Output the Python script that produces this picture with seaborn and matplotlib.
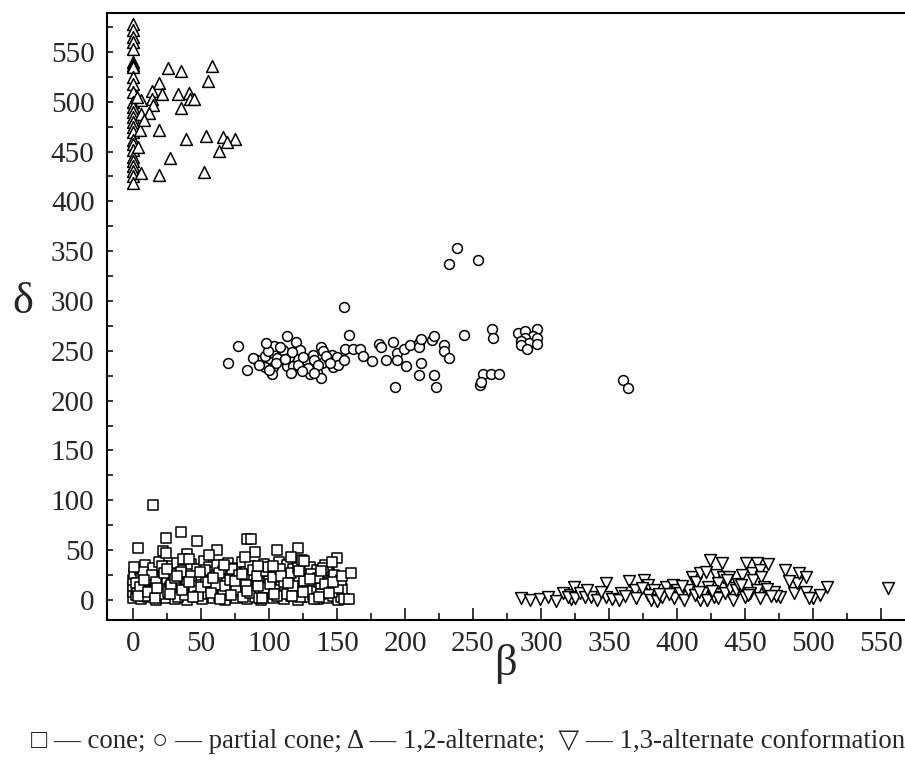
import numpy as np
import pandas as pd
import matplotlib
matplotlib.use("Agg")
import matplotlib.pyplot as plt
import seaborn as sns
from matplotlib.ticker import MultipleLocator

# ---------------- data ----------------
cone_beta = [0, 0, 0, 0, 1, 2, 3, 4, 5, 6, 6, 8, 9, 10, 11, 12, 13, 14, 15, 16, 17, 18, 19, 20,
             21, 22, 23, 24, 25, 26, 27, 28, 29, 30, 31, 32, 33, 34, 35, 36, 37, 38, 39, 40,
             41, 42, 43, 44, 45, 46, 47, 48, 49, 50, 51, 52, 53, 54, 55, 56, 57, 58, 59, 60,
             61, 62, 63, 64, 65, 66, 67, 68, 69, 70, 71, 72, 73, 74, 75, 76, 77, 78, 79, 80,
             81, 82, 83, 84, 85, 86, 87, 88, 89, 90, 91, 92, 93, 94, 95, 96, 97, 98, 99, 100,
             101, 102, 103, 104, 105, 106, 107, 108, 109, 110, 111, 112, 113, 114, 115, 116,
             117, 118, 119, 120, 121, 122, 123, 124, 125, 126, 127, 128, 129, 130, 131, 132,
             133, 134, 135, 136, 137, 138, 139, 140, 141, 142, 143, 144, 145, 146, 147, 148,
             149, 150, 151, 152, 153, 154, 155,
             2, 5, 7, 9, 12, 14, 17, 19, 21, 23, 26, 28, 31, 33, 35, 38, 40, 43, 45, 48, 50,
             53, 55, 58, 61, 63, 66, 68, 71, 73, 76, 78, 81, 83, 86, 88, 91, 93, 96, 98, 101,
             103, 106, 108, 111, 113, 116, 118, 121, 123, 126, 128, 131, 133, 136, 138, 141,
             143, 146, 148, 151, 153,
             4, 11, 16, 27, 36, 44, 57, 64, 72, 84, 95, 104, 117, 125, 137, 144,
             1, 8, 18, 25, 32, 41, 49, 59, 67, 75, 80, 92, 99, 109, 114, 122, 130, 140, 147, 154,
             15, 35, 24, 47, 84, 87, 4, 22, 24, 62, 40, 90, 106, 121, 150, 146, 160, 159, 56,
             37, 41, 116, 124, 138, 126, 103, 82, 92]
cone_delta = [2, 8, 14, 20, 26, 5, 11, 17, 30, 1, 22, 9, 35, 15, 3, 27, 20, 7, 32, 12, 0, 24, 38, 5,
              16, 29, 10, 2, 21, 34, 13, 6, 26, 18, 1, 37, 9, 23, 15, 4, 30, 11, 19, 0,
              27, 7, 36, 14, 22, 3, 31, 17, 9, 25, 1, 39, 12, 20, 6, 33, 16, 28, 2, 10,
              24, 35, 4, 18, 13, 29, 8, 0, 21, 37, 11, 26, 5, 16, 32, 2, 23, 9, 14, 38,
              19, 6, 28, 1, 12, 34, 21, 8, 25, 3, 17, 30, 10, 0, 22, 36, 14, 5, 27, 19,
              9, 33, 2, 15, 24, 11, 38, 6, 20, 29, 1, 13, 35, 8, 23, 4,
              17, 31, 10, 26, 0, 19, 36, 7, 14, 28, 3, 21, 11, 33, 16, 5,
              25, 9, 30, 1, 18, 12, 24, 6, 35, 15, 2, 27, 10, 20, 4, 13,
              22, 7, 0, 16, 3, 11, 1,
              17, 13, 28, 4, 9, 25, 18, 6, 34, 27, 8, 15, 22, 3, 28, 5, 16, 24, 9, 4, 13,
              30, 18, 8, 15, 27, 5, 14, 20, 31, 10, 25, 3, 15, 7, 30, 24, 2, 12, 29, 16,
              23, 4, 31, 18, 6, 27, 14, 32, 3, 19, 9, 26, 1, 22, 6, 16,
              30, 8, 25, 12, 20,
              4, 8, 2, 6, 10, 3, 7, 1, 5, 9, 2, 6, 4, 8, 3, 7,
              33, 20, 12, 31, 24, 18, 28, 22, 35, 19, 26, 14, 33, 24, 17, 29, 21, 32, 18, 24,
              95, 68, 62, 59, 61, 61, 52, 49, 47, 50, 46, 48, 50, 52, 42, 38, 27, 1, 45,
              41, 41, 43, 40, 29, 39, 34, 43, 34]

partial_beta = [238, 232, 254, 155, 77, 70, 84, 91, 97, 103, 104, 113, 120, 109, 115, 123, 97,
                103, 102, 113, 118, 106, 110, 128, 132, 138, 140, 139, 135, 138, 130, 144, 146,
                150, 147, 151, 155, 156, 159, 162, 167, 169, 176, 181, 182, 186, 191, 194, 194,
                201, 199, 204, 210, 210, 212, 220, 221, 229, 229, 232, 212, 210, 221, 223, 193,
                243, 264, 265, 257, 263, 269, 255, 256, 283, 288, 297, 294, 288, 285, 291, 297,
                297, 285, 290, 360, 364,
                88, 93, 99, 105, 108, 112, 117, 121, 125, 129, 133, 136, 142, 145, 100, 116,
                124, 98, 133]
partial_delta = [353, 337, 341, 294, 255, 238, 231, 241, 245, 248, 255, 265, 259, 246, 244, 251, 234,
                 234, 227, 235, 235, 243, 251, 240, 246, 254, 250, 238, 229, 223, 227, 241, 246,
                 244, 234, 236, 241, 252, 266, 252, 252, 245, 240, 257, 254, 241, 259, 248, 241,
                 235, 252, 256, 258, 254, 262, 261, 265, 256, 250, 243, 238, 226, 226, 214, 214,
                 266, 272, 263, 227, 227, 227, 216, 219, 268, 270, 272, 265, 263, 260, 258, 263,
                 257, 256, 252, 221, 213,
                 243, 236, 250, 238, 254, 242, 249, 236, 244, 233, 241, 236, 245, 238, 231, 228,
                 230, 258, 228]

alt12_beta = [0, 0, 0, 0, 0, 0, 0, 0, 0, 0, 0, 0, 0, 0, 0, 0, 0, 0, 0, 0, 0, 0, 0, 0, 0, 0, 0,
              26, 35, 58, 55, 19, 14, 21, 33, 41, 42, 45, 14, 6, 15, 35, 12, 6, 5, 19, 39, 54,
              66, 75, 69, 63, 27, 6, 19, 52, 3, 4, 8]
alt12_delta = [578, 572, 565, 560, 553, 540, 537, 535, 525, 518, 510, 500, 495, 490, 485, 480,
               475, 470, 462, 458, 452, 445, 440, 435, 430, 425, 418,
               534, 531, 536, 521, 519, 511, 508, 508, 509, 503, 503, 503, 502, 497, 494, 489,
               488, 472, 472, 463, 466, 465, 463, 460, 451, 444, 428, 426, 429, 505, 455, 482]

alt13_beta = [285, 292, 299, 305, 311, 316, 321, 324, 322, 320, 325, 329, 332, 337, 341, 348, 348,
              352, 359, 357, 365, 369, 370, 376, 379, 383, 379, 381, 385, 389, 392, 397, 400,
              398, 402, 405, 408, 411, 414, 417, 421, 424, 433, 429, 434, 438, 430, 423, 419,
              417, 413, 422, 427, 430, 435, 441, 439, 443, 448, 451, 455, 456, 459, 461, 462,
              467, 464, 459, 454, 450, 461, 471, 476, 479, 486, 488, 490, 495, 495, 500, 505,
              510, 555, 344, 362, 374, 394, 404, 426, 445, 452, 466, 473, 482, 497, 334, 387,
              416, 437, 447, 469]
alt13_delta = [2, 0, 1, 3, -1, 7, 5, 13, 1, 3, 2, 7, 3, 3, 0, 17, 3, 1, 7, 0, 19, 10, 2, 20, 15,
               10, 5, 0, -1, 3, 13, 15, 10, 2, 7, 0, 10, 23, 18, 27, 28, 40, 37, 25, 23, 23, 17,
               13, 7, 0, 5, 0, 3, 2, 7, 0, 12, 10, 25, 37, 27, 20, 37, 30, 23, 36, 13, 10, 7,
               3, 2, 8, 3, 30, 7, 17, 27, 23, 8, 2, 5, 13, 12, 8, 4, 12, 6, 14, 9, 16, 5, 11,
               4, 19, 2, 10, 6, 8, 20, 15, 4]

x_ticks = [0, 50, 100, 150, 200, 250, 300, 350, 400, 450, 500, 550]
y_ticks = [0, 50, 100, 150, 200, 250, 300, 350, 400, 450, 500, 550]
caption = "\u25a1 \u2014 cone; \u25cb \u2014 partial cone; \u0394 \u2014 1,2-alternate;  \u25bd \u2014 1,3-alternate conformation"

# ---------------- table ----------------
df = pd.concat([
    pd.DataFrame({"beta": cone_beta, "delta": cone_delta, "conf": "cone"}),
    pd.DataFrame({"beta": partial_beta, "delta": partial_delta, "conf": "partial cone"}),
    pd.DataFrame({"beta": alt12_beta, "delta": alt12_delta, "conf": "1,2-alternate"}),
    pd.DataFrame({"beta": alt13_beta, "delta": alt13_delta, "conf": "1,3-alternate"}),
], ignore_index=True)

sns.set_style("white")
plt.rcParams["font.family"] = ["Liberation Serif", "DejaVu Sans"]
plt.rcParams["mathtext.fontset"] = "stix"

fig = plt.figure(figsize=(9.05, 7.63), dpi=100)
ax = fig.add_axes([107 / 905, 143 / 763, 804 / 905, 607 / 763])

sizes = {"cone": 44, "partial cone": 50, "1,2-alternate": 72, "1,3-alternate": 72}
markers = {"cone": "s", "partial cone": "o", "1,2-alternate": "^", "1,3-alternate": "v"}
for conf in ["cone", "partial cone", "1,2-alternate", "1,3-alternate"]:
    sub = df[df["conf"] == conf]
    sns.scatterplot(data=sub, x="beta", y="delta", marker=markers[conf], s=sizes[conf],
                    color="white", edgecolor="black", linewidth=1.1, ax=ax, legend=False,
                    zorder=3)

ax.set_xlim(-19.1, 572)
ax.set_ylim(-20.1, 589)
ax.set_xticks(x_ticks)
ax.set_yticks(y_ticks)
ax.set_xticklabels([str(t) for t in x_ticks])
ax.set_yticklabels([str(t) for t in y_ticks])
ax.xaxis.set_minor_locator(MultipleLocator(25))
ax.yaxis.set_minor_locator(MultipleLocator(25))
ax.tick_params(axis="x", which="major", direction="in", length=8.5, width=1.3,
               labelsize=21, pad=8, bottom=True, top=False)
ax.tick_params(axis="x", which="minor", direction="in", length=5, width=1.3,
               bottom=True, top=False)
ax.tick_params(axis="y", which="both", direction="in", length=4, width=1.3,
               labelsize=21, pad=9, left=True, right=False)
for sp in ax.spines.values():
    sp.set_linewidth(1.5)
    sp.set_color("black")
ax.set_xlabel("")
ax.set_ylabel("")

fig.text(505 / 905, 1 - 664 / 763, "\u03b2", fontsize=32, ha="center", va="center")
fig.text(23 / 905, 1 - 302 / 763, "\u03b4", fontsize=32, ha="center", va="center")
fig.text(468 / 905, 1 - 741 / 763, caption, fontsize=19.3, ha="center", va="center")

fig.savefig("out.png", dpi=100)
